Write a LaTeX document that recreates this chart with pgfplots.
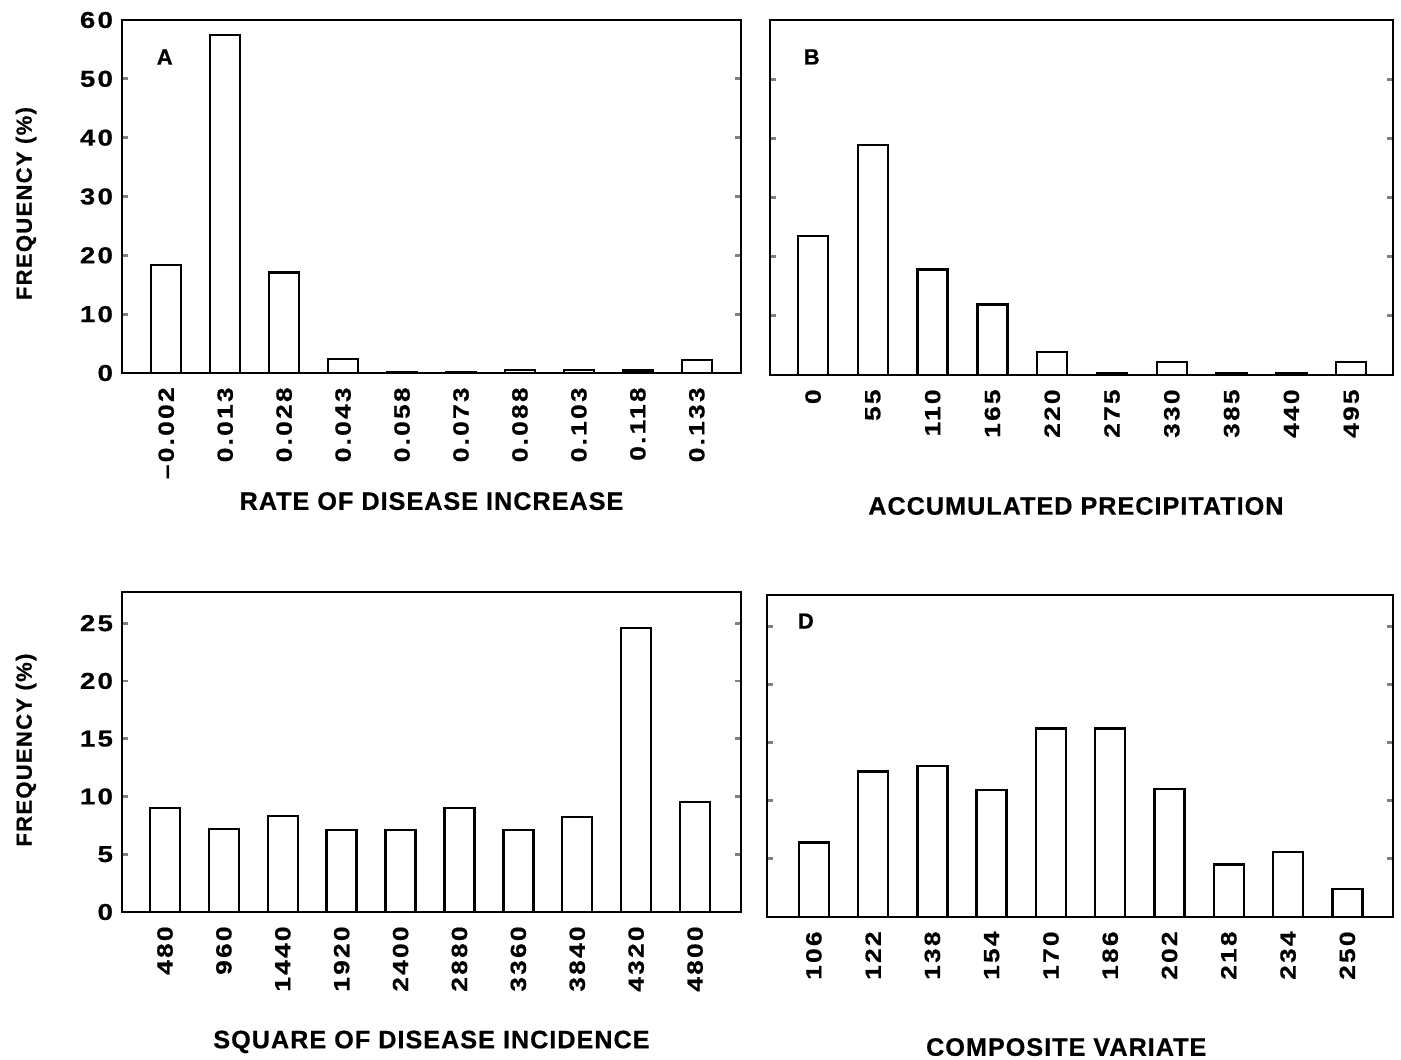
\documentclass[border=0pt]{standalone}
\usepackage{fontspec}
\setmainfont{Liberation Sans}
\newfontfamily\tickfont{Liberation Sans}[LetterSpace=10, FakeStretch=1.2, FakeBold=0.6]
\newfontfamily\labfont{Liberation Sans}[LetterSpace=4, FakeBold=0.6]
\newfontfamily\ylabfont{Liberation Sans}[LetterSpace=6, FakeBold=0.6]
\newfontfamily\panelfont{Liberation Sans}[FakeBold=0.6]
\usepackage{pgfplots}
\pgfplotsset{compat=1.18}
\pgfplotsset{hist/.style={
  scale only axis,
  anchor=south west,
  axis line style={line width=1.4pt},
  ybar, bar width=15pt, bar shift=0pt,
  xtick={0,...,9}, xtick style={draw=none},
  ytick style={line width=1.4pt},
  tick align=inside, major tick length=3pt,
  ymin=0,
  /pgf/number format/assume math mode=true,
  xticklabel shift=7pt,
  xticklabel style={rotate=90, anchor=east, inner sep=0pt, font=\tickfont\bfseries\fontsize{11}{12}\selectfont},
  yticklabel style={font=\tickfont\bfseries\fontsize{11.5}{12}\selectfont, xshift=-1pt},
  xlabel style={font=\labfont\bfseries\fontsize{12.6}{14}\selectfont, anchor=center},
  ylabel style={font=\ylabfont\bfseries\fontsize{11}{12}\selectfont, anchor=center, rotate=0},
}}
\pgfplotstableread{
x y
0 18.4
1 57.4
2 17.1
3 2.4
4 0.2
5 0.2
6 0.5
7 0.5
8 0.4
9 2.2
}\dataA
\pgfplotstableread{
x y
0 23.5
1 38.9
2 17.8
3 11.9
4 3.9
5 0.3
6 2.2
7 0.3
8 0.3
9 2.2
}\dataB
\pgfplotstableread{
x y
0 9.0
1 7.2
2 8.3
3 7.1
4 7.1
5 9.0
6 7.1
7 8.2
8 24.6
9 9.5
}\dataC
\pgfplotstableread{
x y
0 6.4
1 12.5
2 13.0
3 10.9
4 16.2
5 16.2
6 11.0
7 4.5
8 5.6
9 2.4
}\dataD
\begin{document}
\begin{tikzpicture}
\path[use as bounding box] (0,0) rectangle (700.5pt,529.5pt);
% Panel A
\begin{axis}[hist,
  at={(61pt,343pt)}, width=309.5pt, height=176.5pt,
  xmin=-0.75, xmax=9.75, ymax=60, ytick={0,10,...,60},
  xticklabels={\textendash0.002,0.013,0.028,0.043,0.058,0.073,0.088,0.103,0.118,0.133},
  xlabel={RATE OF DISEASE INCREASE},
  xlabel style={at={(axis description cs:0.5,-0.363)}},
  ylabel={FREQUENCY (\%)},
  ylabel style={at={(axis description cs:-0.155,0.48)}, rotate=0},
]
\addplot[draw=black, fill=white, line width=1.2pt] table[x=x,y=y] {\dataA};
\node[font=\panelfont\bfseries\fontsize{11}{12}\selectfont] at (axis description cs:0.069,0.895) {A};
\end{axis}
% Panel B
\begin{axis}[hist,
  at={(385pt,342pt)}, width=311.5pt, height=177.5pt,
  xmin=-0.72, xmax=9.7, ymax=60, ytick={0,10,...,60}, yticklabels={},
  xticklabels={0,55,110,165,220,275,330,385,440,495},
  xlabel={ACCUMULATED PRECIPITATION},
  xlabel style={at={(axis description cs:0.491,-0.369)}},
]
\addplot[draw=black, fill=white, line width=1.2pt] table[x=x,y=y] {\dataB};
\node[font=\panelfont\bfseries\fontsize{11}{12}\selectfont] at (axis description cs:0.067,0.896) {B};
\end{axis}
% Panel C
\begin{axis}[hist,
  at={(61pt,73.5pt)}, width=309.5pt, height=160pt,
  xmin=-0.73, xmax=9.78, ymax=27.7, ytick={0,5,...,25},
  xticklabels={480,960,1440,1920,2400,2880,3360,3840,4320,4800},
  xlabel={SQUARE OF DISEASE INCIDENCE},
  xlabel style={at={(axis description cs:0.5,-0.406)}},
  ylabel={FREQUENCY (\%)},
  ylabel style={at={(axis description cs:-0.155,0.506)}, rotate=0},
]
\addplot[draw=black, fill=white, line width=1.2pt] table[x=x,y=y] {\dataC};
\end{axis}
% Panel D
\begin{axis}[hist,
  at={(383.5pt,71pt)}, width=313pt, height=161pt,
  xmin=-0.79, xmax=9.77, ymax=27.7, ytick={0,5,...,25}, yticklabels={},
  xticklabels={106,122,138,154,170,186,202,218,234,250},
  xlabel={COMPOSITE VARIATE},
  xlabel style={at={(axis description cs:0.478,-0.404)}},
]
\addplot[draw=black, fill=white, line width=1.2pt] table[x=x,y=y] {\dataD};
\node[font=\panelfont\bfseries\fontsize{11}{12}\selectfont] at (axis description cs:0.062,0.919) {D};
\end{axis}
\end{tikzpicture}
\end{document}
